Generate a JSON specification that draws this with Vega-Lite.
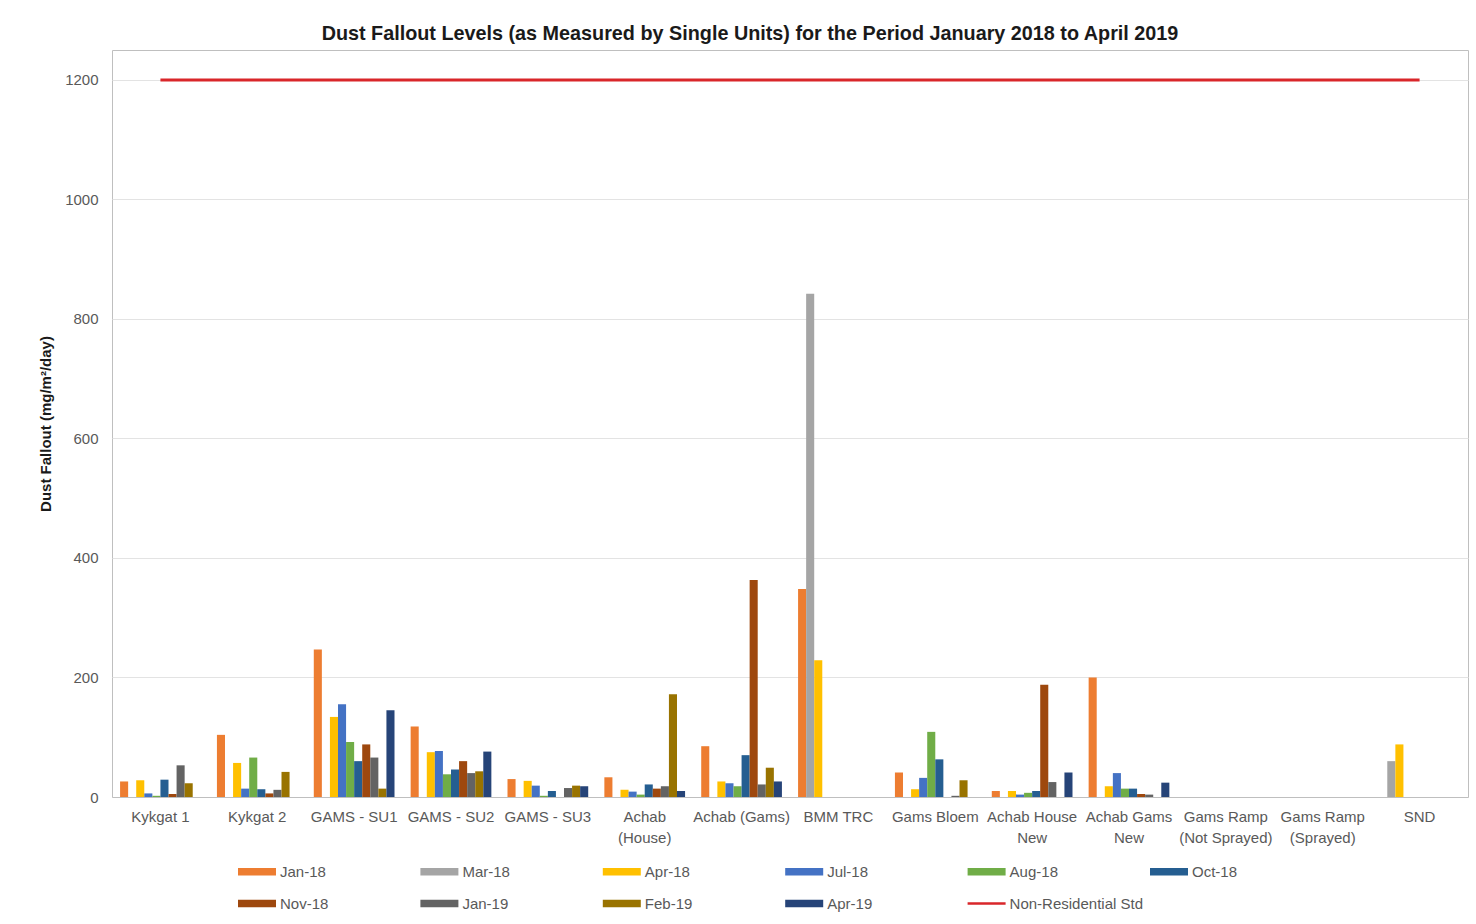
{
  "$schema": "https://vega.github.io/schema/vega-lite/v6.json",
  "autosize": {"type": "none"},
  "padding": {"left": 112, "top": 50, "right": 8, "bottom": 127},
  "width": 1356,
  "height": 747,
  "background": "white",
  "config": {
    "font": "Liberation Sans",
    "view": {"stroke": "#BFBFBF", "strokeWidth": 1}
  },
  "title": {
    "text": "Dust Fallout Levels (as Measured by Single Units) for the Period January 2018 to April 2019",
    "fontSize": 19.8,
    "fontWeight": "bold",
    "color": "#1a1a1a",
    "anchor": "middle",
    "dx": -40,
    "dy": 18,
    "offset": 8,
    "baseline": "alphabetic"
  },
  "datasets": {
    "bars": [
      {"site": "Kykgat 1", "series": "Jan-18", "value": 26},
      {"site": "Kykgat 1", "series": "Apr-18", "value": 28},
      {"site": "Kykgat 1", "series": "Jul-18", "value": 6},
      {"site": "Kykgat 1", "series": "Aug-18", "value": 2},
      {"site": "Kykgat 1", "series": "Oct-18", "value": 29},
      {"site": "Kykgat 1", "series": "Nov-18", "value": 5},
      {"site": "Kykgat 1", "series": "Jan-19", "value": 53},
      {"site": "Kykgat 1", "series": "Feb-19", "value": 23},
      {"site": "Kykgat 2", "series": "Jan-18", "value": 104},
      {"site": "Kykgat 2", "series": "Apr-18", "value": 57},
      {"site": "Kykgat 2", "series": "Jul-18", "value": 14},
      {"site": "Kykgat 2", "series": "Aug-18", "value": 66},
      {"site": "Kykgat 2", "series": "Oct-18", "value": 13},
      {"site": "Kykgat 2", "series": "Nov-18", "value": 6},
      {"site": "Kykgat 2", "series": "Jan-19", "value": 12},
      {"site": "Kykgat 2", "series": "Feb-19", "value": 42},
      {"site": "GAMS - SU1", "series": "Jan-18", "value": 247},
      {"site": "GAMS - SU1", "series": "Apr-18", "value": 134},
      {"site": "GAMS - SU1", "series": "Jul-18", "value": 155},
      {"site": "GAMS - SU1", "series": "Aug-18", "value": 92},
      {"site": "GAMS - SU1", "series": "Oct-18", "value": 60},
      {"site": "GAMS - SU1", "series": "Nov-18", "value": 88},
      {"site": "GAMS - SU1", "series": "Jan-19", "value": 66},
      {"site": "GAMS - SU1", "series": "Feb-19", "value": 14},
      {"site": "GAMS - SU1", "series": "Apr-19", "value": 145},
      {"site": "GAMS - SU2", "series": "Jan-18", "value": 118},
      {"site": "GAMS - SU2", "series": "Apr-18", "value": 75},
      {"site": "GAMS - SU2", "series": "Jul-18", "value": 77},
      {"site": "GAMS - SU2", "series": "Aug-18", "value": 38},
      {"site": "GAMS - SU2", "series": "Oct-18", "value": 46},
      {"site": "GAMS - SU2", "series": "Nov-18", "value": 60},
      {"site": "GAMS - SU2", "series": "Jan-19", "value": 40},
      {"site": "GAMS - SU2", "series": "Feb-19", "value": 43},
      {"site": "GAMS - SU2", "series": "Apr-19", "value": 76},
      {"site": "GAMS - SU3", "series": "Jan-18", "value": 30},
      {"site": "GAMS - SU3", "series": "Apr-18", "value": 27},
      {"site": "GAMS - SU3", "series": "Jul-18", "value": 19},
      {"site": "GAMS - SU3", "series": "Aug-18", "value": 2},
      {"site": "GAMS - SU3", "series": "Oct-18", "value": 10},
      {"site": "GAMS - SU3", "series": "Jan-19", "value": 15},
      {"site": "GAMS - SU3", "series": "Feb-19", "value": 19},
      {"site": "GAMS - SU3", "series": "Apr-19", "value": 18},
      {"site": "Achab (House)", "series": "Jan-18", "value": 33},
      {"site": "Achab (House)", "series": "Apr-18", "value": 12},
      {"site": "Achab (House)", "series": "Jul-18", "value": 9},
      {"site": "Achab (House)", "series": "Aug-18", "value": 4},
      {"site": "Achab (House)", "series": "Oct-18", "value": 21},
      {"site": "Achab (House)", "series": "Nov-18", "value": 14},
      {"site": "Achab (House)", "series": "Jan-19", "value": 18},
      {"site": "Achab (House)", "series": "Feb-19", "value": 172},
      {"site": "Achab (House)", "series": "Apr-19", "value": 10},
      {"site": "Achab (Gams)", "series": "Jan-18", "value": 85},
      {"site": "Achab (Gams)", "series": "Apr-18", "value": 26},
      {"site": "Achab (Gams)", "series": "Jul-18", "value": 23},
      {"site": "Achab (Gams)", "series": "Aug-18", "value": 18},
      {"site": "Achab (Gams)", "series": "Oct-18", "value": 70},
      {"site": "Achab (Gams)", "series": "Nov-18", "value": 363},
      {"site": "Achab (Gams)", "series": "Jan-19", "value": 21},
      {"site": "Achab (Gams)", "series": "Feb-19", "value": 49},
      {"site": "Achab (Gams)", "series": "Apr-19", "value": 26},
      {"site": "BMM TRC", "series": "Jan-18", "value": 348},
      {"site": "BMM TRC", "series": "Mar-18", "value": 842},
      {"site": "BMM TRC", "series": "Apr-18", "value": 229},
      {"site": "Gams Bloem", "series": "Jan-18", "value": 41},
      {"site": "Gams Bloem", "series": "Apr-18", "value": 13},
      {"site": "Gams Bloem", "series": "Jul-18", "value": 32},
      {"site": "Gams Bloem", "series": "Aug-18", "value": 109},
      {"site": "Gams Bloem", "series": "Oct-18", "value": 63},
      {"site": "Gams Bloem", "series": "Jan-19", "value": 2},
      {"site": "Gams Bloem", "series": "Feb-19", "value": 28},
      {"site": "Achab House New", "series": "Jan-18", "value": 10},
      {"site": "Achab House New", "series": "Apr-18", "value": 10},
      {"site": "Achab House New", "series": "Jul-18", "value": 4},
      {"site": "Achab House New", "series": "Aug-18", "value": 7},
      {"site": "Achab House New", "series": "Oct-18", "value": 10},
      {"site": "Achab House New", "series": "Nov-18", "value": 188},
      {"site": "Achab House New", "series": "Jan-19", "value": 25},
      {"site": "Achab House New", "series": "Apr-19", "value": 41},
      {"site": "Achab Gams New", "series": "Jan-18", "value": 200},
      {"site": "Achab Gams New", "series": "Apr-18", "value": 18},
      {"site": "Achab Gams New", "series": "Jul-18", "value": 40},
      {"site": "Achab Gams New", "series": "Aug-18", "value": 14},
      {"site": "Achab Gams New", "series": "Oct-18", "value": 14},
      {"site": "Achab Gams New", "series": "Nov-18", "value": 5},
      {"site": "Achab Gams New", "series": "Jan-19", "value": 4},
      {"site": "Achab Gams New", "series": "Apr-19", "value": 24},
      {"site": "SND", "series": "Mar-18", "value": 60},
      {"site": "SND", "series": "Apr-18", "value": 88}
    ],
    "std": [
      {"site": "Kykgat 1", "series": "Non-Residential Std", "value": 1200},
      {"site": "Kykgat 2", "series": "Non-Residential Std", "value": 1200},
      {"site": "GAMS - SU1", "series": "Non-Residential Std", "value": 1200},
      {"site": "GAMS - SU2", "series": "Non-Residential Std", "value": 1200},
      {"site": "GAMS - SU3", "series": "Non-Residential Std", "value": 1200},
      {"site": "Achab (House)", "series": "Non-Residential Std", "value": 1200},
      {"site": "Achab (Gams)", "series": "Non-Residential Std", "value": 1200},
      {"site": "BMM TRC", "series": "Non-Residential Std", "value": 1200},
      {"site": "Gams Bloem", "series": "Non-Residential Std", "value": 1200},
      {"site": "Achab House New", "series": "Non-Residential Std", "value": 1200},
      {"site": "Achab Gams New", "series": "Non-Residential Std", "value": 1200},
      {"site": "Gams Ramp (Not Sprayed)", "series": "Non-Residential Std", "value": 1200},
      {"site": "Gams Ramp (Sprayed)", "series": "Non-Residential Std", "value": 1200},
      {"site": "SND", "series": "Non-Residential Std", "value": 1200}
    ]
  },
  "encoding": {
    "x": {
      "field": "site",
      "type": "nominal",
      "scale": {
        "domain": ["Kykgat 1", "Kykgat 2", "GAMS - SU1", "GAMS - SU2", "GAMS - SU3", "Achab (House)", "Achab (Gams)", "BMM TRC", "Gams Bloem", "Achab House New", "Achab Gams New", "Gams Ramp (Not Sprayed)", "Gams Ramp (Sprayed)", "SND"],
        "paddingInner": 0,
        "paddingOuter": 0
      },
      "axis": {
        "title": null,
        "labelAngle": 0,
        "labelFontSize": 15,
        "labelColor": "#595959",
        "labelPadding": 12,
        "labelLineHeight": 21,
        "labelLimit": 200,
        "ticks": false,
        "domainColor": "#BFBFBF",
        "labelExpr": "(indexof(datum.label, ' (') >= 0 && datum.label !== 'Achab (Gams)') ? [slice(datum.label, 0, indexof(datum.label, ' (')), slice(datum.label, indexof(datum.label, ' (') + 1)] : indexof(datum.label, ' New') >= 0 ? [slice(datum.label, 0, indexof(datum.label, ' New')), 'New'] : datum.label"
      }
    },
    "y": {
      "field": "value",
      "type": "quantitative",
      "scale": {"domain": [0, 1250], "nice": false},
      "axis": {
        "title": "Dust Fallout (mg/m²/day)",
        "titleFontSize": 15,
        "titleFontWeight": "bold",
        "titleColor": "#1a1a1a",
        "titlePadding": 11,
        "values": [0, 200, 400, 600, 800, 1000, 1200],
        "format": "d",
        "labelFontSize": 15,
        "labelColor": "#595959",
        "labelPadding": 14,
        "ticks": false,
        "domain": false,
        "gridColor": "#E3E3E3",
        "gridWidth": 1
      }
    },
    "color": {
      "field": "series",
      "type": "nominal",
      "scale": {
        "domain": ["Jan-18", "Mar-18", "Apr-18", "Jul-18", "Aug-18", "Oct-18", "Nov-18", "Jan-19", "Feb-19", "Apr-19", "Non-Residential Std"],
        "range": ["#ED7D31", "#A5A5A5", "#FFC000", "#4472C4", "#70AD47", "#255E91", "#9E480E", "#636363", "#997300", "#264478", "#D9262A"]
      },
      "legend": {
        "title": null,
        "orient": "none",
        "legendX": 126,
        "legendY": 812,
        "direction": "horizontal",
        "columns": 6,
        "gridAlign": "all",
        "columnPadding": 6.4,
        "rowPadding": 14,
        "symbolSize": 361,
        "symbolType": "M-1,-0.4H3V0.4H-1Z",
        "symbolStrokeWidth": 0,
        "symbolOpacity": 1,
        "labelOffset": 23,
        "labelFontSize": 15,
        "labelColor": "#595959",
        "labelLimit": 300,
        "encode": {
          "symbols": {
            "update": {
              "shape": [
                {"test": "datum.value === 'Non-Residential Std'", "value": "M-1,-0.12H3V0.12H-1Z"},
                {"value": "M-1,-0.4H3V0.4H-1Z"}
              ],
              "fill": {"scale": "color", "field": "value"},
              "stroke": {"value": "transparent"},
              "opacity": {"value": 1}
            }
          }
        }
      }
    }
  },
  "layer": [
    {
      "data": {"name": "bars"},
      "mark": {"type": "bar"},
      "encoding": {
        "xOffset": {
          "field": "series",
          "type": "nominal",
          "scale": {
            "domain": ["Jan-18", "Mar-18", "Apr-18", "Jul-18", "Aug-18", "Oct-18", "Nov-18", "Jan-19", "Feb-19", "Apr-19"],
            "paddingInner": 0,
            "paddingOuter": 1
          }
        }
      }
    },
    {
      "data": {"name": "std"},
      "mark": {"type": "line", "strokeWidth": 3},
      "encoding": {}
    }
  ]
}
